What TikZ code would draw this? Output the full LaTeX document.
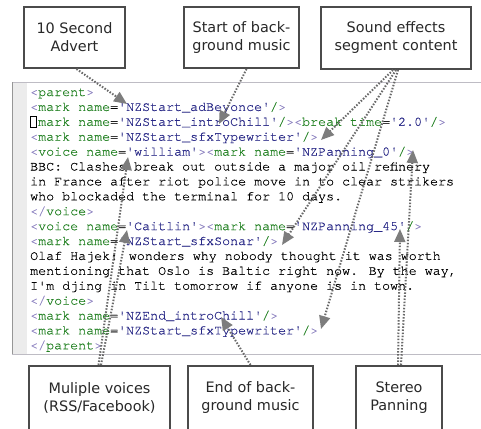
\documentclass[tikz,border=0pt]{standalone}
\usepackage{fontspec}
\newfontfamily\codefont[FakeBold=0.35]{TeX Gyre Cursor}
\newfontfamily\boxfont{DejaVu Sans}
\usetikzlibrary{arrows.meta}
\definecolor{tagc}{RGB}{35,130,35}
\definecolor{valc}{RGB}{40,40,135}
\definecolor{brkc}{RGB}{145,135,195}
\definecolor{boxline}{RGB}{75,75,75}
\definecolor{boxtext}{RGB}{40,40,40}
\definecolor{dotc}{RGB}{105,105,105}
\definecolor{tipc}{RGB}{125,125,125}
\definecolor{gutter}{RGB}{236,236,236}
\definecolor{panelline}{RGB}{190,188,196}
\definecolor{gutterline}{RGB}{150,150,150}
\newcommand\Lb{\textcolor{brkc}{<}}
\newcommand\Rb{\textcolor{brkc}{>}}
\newcommand\Tg[1]{\textcolor{tagc}{#1}}
\newcommand\Vl[1]{\textcolor{valc}{#1}}
\begin{document}
\begin{tikzpicture}[x=1pt,y=-1pt,
  code/.style={anchor=base west,inner sep=0pt,font=\codefont\fontsize{13.33pt}{15pt}\selectfont},
  lbl/.style={draw=boxline,line width=2pt,fill=white,align=center,
    font=\boxfont\fontsize{14.4pt}{18pt}\selectfont,text=boxtext,inner sep=0pt},
  pointer/.style={draw=dotc,line width=2pt,dash pattern=on 1.5pt off 1.6pt,
    -{Triangle[length=13pt,width=11pt,color=tipc]}}]
\useasboundingbox (0,0) rectangle (481,428);
\clip (0,0) rectangle (481,428);
\fill[white] (0,0) rectangle (481,428);
% code panel
\fill[gutter] (12,82) rectangle (27,354);
\draw[panelline,line width=1pt] (12,82) -- (481,82);
\draw[panelline,line width=1pt] (12,354) -- (481,354);
\draw[gutterline,line width=1pt] (12,82) -- (12,354);
% code lines
\node[code] (l1) at (30,96.0) {\Lb\Tg{parent}\Rb};
\node[code] (l2) at (30,110.9) {\Lb\Tg{mark name}=\Vl{'NZStart\_adBeyonce'}\Tg{/}\Rb};
\node[code] (l3) at (30,125.8) {\phantom{<}\Tg{mark name}=\Vl{'NZStart\_introChill'}\Tg{/}\Rb\Lb\Tg{break time}=\Vl{'2.0'}\Tg{/}\Rb};
\node[draw=black,line width=0.8pt,minimum width=6pt,minimum height=11pt,inner sep=0pt] (cur) at (33,122) {};
\node[code] (l4) at (30,140.7) {\Lb\Tg{mark name}=\Vl{'NZStart\_sfxTypewriter'}\Tg{/}\Rb};
\node[code] (l5) at (30,155.6) {\Lb\Tg{voice name}=\Vl{'william'}\Rb\Lb\Tg{mark name}=\Vl{'NZPanning\_0'}\Tg{/}\Rb};
\node[code] (l6) at (30,170.5) {BBC: Clashes break out outside a major oil refinery};
\node[code] (l7) at (30,185.4) {in France after riot police move in to clear strikers};
\node[code] (l8) at (30,200.3) {who blockaded the terminal for 10 days.};
\node[code] (l9) at (30,215.2) {\Lb\textcolor{brkc}{/}\Tg{voice}\Rb};
\node[code] (l10) at (30,230.1) {\Lb\Tg{voice name}=\Vl{'Caitlin'}\Rb\Lb\Tg{mark name}=\Vl{'NZPanning\_45'}\Tg{/}\Rb};
\node[code] (l11) at (30,245.0) {\Lb\Tg{mark name}=\Vl{'NZStart\_sfxSonar'}\Tg{/}\Rb};
\node[code] (l12) at (30,259.9) {Olaf Hajek: wonders why nobody thought it was worth};
\node[code] (l13) at (30,274.8) {mentioning that Oslo is Baltic right now. By the way,};
\node[code] (l14) at (30,289.7) {I'm djing in Tilt tomorrow if anyone is in town.};
\node[code] (l15) at (30,304.6) {\Lb\textcolor{brkc}{/}\Tg{voice}\Rb};
\node[code] (l16) at (30,319.5) {\Lb\Tg{mark name}=\Vl{'NZEnd\_introChill'}\Tg{/}\Rb};
\node[code] (l17) at (30,334.4) {\Lb\Tg{mark name}=\Vl{'NZStart\_sfxTypewriter'}\Tg{/}\Rb};
\node[code] (l18) at (30,349.3) {\Lb\textcolor{brkc}{/}\Tg{parent}\Rb};
% label boxes
\node[lbl,minimum width=101pt,minimum height=61pt] (b1) at (74.5,37.5) {10 Second\\Advert};
\node[lbl,minimum width=115pt,minimum height=61pt] (b2) at (241.5,37.5) {Start of back-\\ground music};
\node[lbl,minimum width=150pt,minimum height=62pt] (b3) at (396,38) {Sound effects\\segment content};
\node[lbl,minimum width=141pt,minimum height=64pt] (mv) at (99.5,398) {Muliple voices\\(RSS/Facebook)};
\node[lbl,minimum width=125pt,minimum height=64pt] (eb) at (250.5,398) {End of back-\\ground music};
\node[lbl,minimum width=86pt,minimum height=64pt] (st) at (399,398) {Stereo\\Panning};
% arrow targets
\coordinate (t1) at (127,104);
\coordinate (t2) at (219,124);
\coordinate (t3a) at (321,140);
\coordinate (t3b) at (282,245);
\coordinate (t3c) at (321,329);
\coordinate (tm1) at (128,157);
\coordinate (tm2) at (127,230);
\coordinate (te) at (221,317);
\coordinate (ts1) at (413,150);
\coordinate (ts2) at (400,229);
% connectors
\draw[pointer] ([xshift=2pt]b1.south) -- (t1);
\draw[pointer] ([xshift=5pt]b2.south) -- (t2);
\draw[pointer] ([xshift=-3pt]b3.south) -- (t3a);
\draw[pointer] ([xshift=0pt]b3.south) -- (t3b);
\draw[pointer] ([xshift=2pt]b3.south) -- (t3c);
\draw[pointer] ([xshift=-1pt]mv.north) -- (tm1);
\draw[pointer] ([xshift=1.5pt]mv.north) -- (tm2);
\draw[pointer] (eb.north) -- (te);
\draw[pointer] ([xshift=2pt]st.north) -- (ts1);
\draw[pointer] ([xshift=-1pt]st.north) -- (ts2);
\end{tikzpicture}
\end{document}
